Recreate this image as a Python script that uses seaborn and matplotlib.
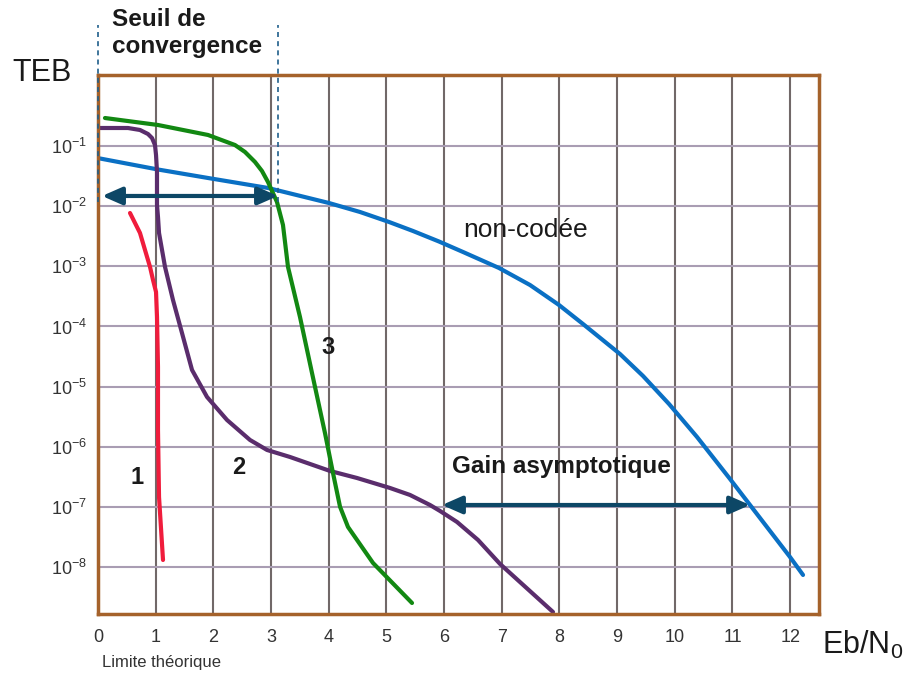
import numpy as np
import pandas as pd
import seaborn as sns
import matplotlib.pyplot as plt
from matplotlib.ticker import NullLocator
import matplotlib.transforms as mtransforms

# courbes TEB (Eb/N0 en dB, log10 du TEB)
eb_nc = [0.035, 1.04, 1.907, 2.947, 4.005, 4.542, 5.045, 5.461, 5.912, 6.328, 6.952, 7.49, 7.992,
         8.408, 9.05, 9.449, 9.9, 10.385, 10.957, 11.304, 11.997, 12.223]
teb_nc = [-1.208, -1.391, -1.532, -1.698, -1.948, -2.097, -2.263, -2.413, -2.588, -2.762, -3.028,
          -3.311, -3.643, -3.959, -4.458, -4.823, -5.289, -5.837, -6.535, -6.968, -7.832, -8.131]

eb_1 = [0.555, 0.728, 0.815, 0.902, 0.954, 1.006, 1.023, 1.04, 1.04, 1.058, 1.127]
teb_1 = [-2.114, -2.446, -2.729, -3.011, -3.228, -3.427, -3.843, -4.674, -5.721, -6.835, -7.882]

eb_2 = [0.02, 0.52, 0.728, 0.867, 0.936, 0.988, 1.006, 1.023, 1.023, 1.04, 1.058, 1.11, 1.162, 1.3,
        1.456, 1.63, 1.89, 2.237, 2.635, 2.93, 3.329, 4.022, 4.49, 5.062, 5.409, 5.756, 5.929,
        6.224, 6.588, 6.97, 7.888]
teb_2 = [-0.701, -0.701, -0.734, -0.801, -0.867, -0.984, -1.15, -1.432, -1.981, -2.18, -2.446,
         -2.729, -3.011, -3.56, -4.108, -4.723, -5.172, -5.555, -5.887, -6.053, -6.17, -6.402,
         -6.519, -6.685, -6.801, -6.968, -7.067, -7.25, -7.549, -7.948, -8.746]

eb_3 = [0.121, 1.04, 1.907, 2.375, 2.549, 2.722, 2.843, 2.947, 3.103, 3.207, 3.294, 3.502, 3.71,
        3.935, 4.074, 4.196, 4.334, 4.768, 5.444]
teb_3 = [-0.535, -0.651, -0.817, -0.984, -1.1, -1.266, -1.416, -1.599, -1.931, -2.313, -3.011,
         -3.843, -4.773, -5.771, -6.436, -6.997, -7.333, -7.932, -8.597]

x_ticks = list(range(13))
y_exp = [-1, -2, -3, -4, -5, -6, -7, -8]

# seuil de convergence et gain asymptotique
seuil_x = [0.0, 3.12]
seuil_y = -1.831
gain_x = [5.964, 11.304]
gain_y = -6.968

colors = {"non-codée": "#0a70c4", "1": "#f01c3c", "2": "#5a2d6c", "3": "#128812"}

frames = []
for name, xs, ys in [("non-codée", eb_nc, teb_nc), ("1", eb_1, teb_1), ("2", eb_2, teb_2), ("3", eb_3, teb_3)]:
    frames.append(pd.DataFrame({"courbe": name, "ebn0": xs, "teb": 10.0 ** np.array(ys)}))
df = pd.concat(frames, ignore_index=True)

sns.set_theme(style="white")
plt.rcParams['font.family'] = ['Liberation Sans', 'DejaVu Sans']
plt.rcParams['mathtext.fontset'] = 'custom'
plt.rcParams['mathtext.rm'] = 'Liberation Sans'
plt.rcParams['mathtext.it'] = 'Liberation Sans'

fig = plt.figure(figsize=(9.06, 6.74), dpi=100)
ax = fig.add_axes([98 / 906, 1 - 614 / 674, (819 - 98) / 906, (614 - 75) / 674])

sns.lineplot(data=df, x="ebn0", y="teb", hue="courbe", palette=colors, estimator=None,
             sort=False, legend=False, linewidth=3, ax=ax, zorder=3)
for l in ax.get_lines():
    l.set_solid_joinstyle("round")
    l.set_solid_capstyle("round")

ax.set_yscale("log")
ax.set_xlim(0, 12.5)
ax.set_ylim(10 ** -8.78, 10 ** 0.18)
ax.set_xticks(x_ticks)
ax.set_xticklabels([str(t) for t in x_ticks])
ax.set_yticks([10.0 ** e for e in y_exp])
ax.set_yticklabels([r"$\mathregular{10^{%d}}$" % e for e in y_exp])
ax.yaxis.set_minor_locator(NullLocator())
ax.tick_params(axis="both", length=0, labelsize=13, labelcolor="#333333")
ax.tick_params(axis="x", pad=11)
ax.tick_params(axis="y", pad=8)
ax.set_xlabel("")
ax.set_ylabel("")

ax.xaxis.grid(True, color="#716868", lw=1.5)
ax.yaxis.grid(True, color="#a99db3", lw=1.5)
ax.set_axisbelow(True)
for s in ax.spines.values():
    s.set_color("#a5622b")
    s.set_linewidth(2.5)
    s.set_zorder(4)

arrow_col = "#0d4766"
aprops = dict(arrowstyle="<|-|>,head_length=0.5,head_width=0.22", lw=3, color=arrow_col,
              mutation_scale=24, shrinkA=0, shrinkB=0)
ax.annotate("", xy=(seuil_x[1], 10 ** seuil_y), xytext=(seuil_x[0] + 0.07, 10 ** seuil_y),
            arrowprops=aprops, zorder=5)
ax.annotate("", xy=(gain_x[1], 10 ** gain_y), xytext=(gain_x[0], 10 ** gain_y),
            arrowprops=aprops, zorder=5)

trans = mtransforms.blended_transform_factory(ax.transData, ax.transAxes)
for sx in seuil_x:
    ax.plot([sx, sx], [0.765, 1.093], transform=trans, clip_on=False, ls=(0, (3, 2.5)),
            lw=1.2, color="#1f5f8b", zorder=6)

txt = "#1a1a1a"
ax.text(6.328, 10 ** -2.396, "non-codée", fontsize=19, color=txt, ha="left", va="center")
ax.text(6.137, 10 ** -6.336, "Gain asymptotique", fontsize=17.5, fontweight="bold", color=txt,
        ha="left", va="center")
ax.text(0.676, 10 ** -6.519, "1", fontsize=17, fontweight="bold", color=txt, ha="center", va="center")
ax.text(2.445, 10 ** -6.352, "2", fontsize=17, fontweight="bold", color=txt, ha="center", va="center")
ax.text(3.988, 10 ** -4.358, "3", fontsize=17, fontweight="bold", color=txt, ha="center", va="center")

fig.text(112 / 906, 1 - 20 / 674, "Seuil de", fontsize=17.5, fontweight="bold",
         color=txt, ha="left", va="center")
fig.text(112 / 906, 1 - 47 / 674, "convergence", fontsize=17.5, fontweight="bold",
         color=txt, ha="left", va="center")
fig.text(42 / 906, 1 - 73 / 674, "TEB", fontsize=22, color=txt, ha="center", va="center")
fig.text(903 / 906, 1 - 645 / 674, r"Eb/N$_0$", fontsize=22, color=txt, ha="right", va="center")
fig.text(102 / 906, 1 - 662 / 674, "Limite théorique", fontsize=12, color="#333333",
         ha="left", va="center")

fig.savefig("out.png", dpi=100)
